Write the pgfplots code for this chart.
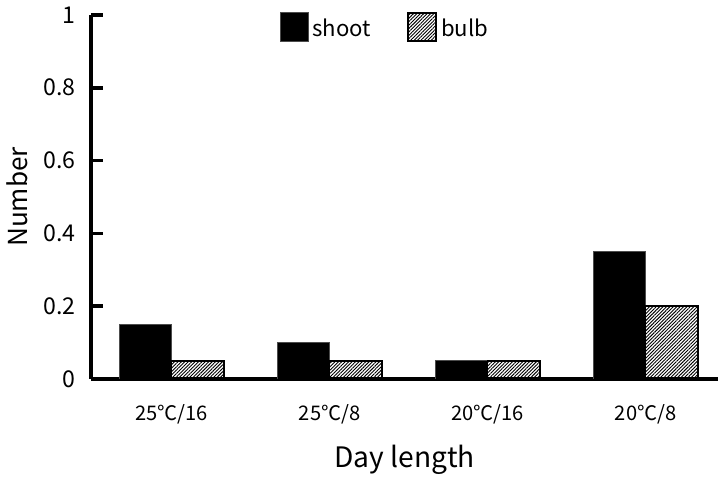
\documentclass[border=0pt]{standalone}
\usepackage{fontspec}
\setmainfont{Noto Sans CJK KR}
\usepackage{pgfplots}
\pgfplotsset{compat=1.18}
\usetikzlibrary{patterns.meta}

\begin{document}
\begin{tikzpicture}
\begin{axis}[
  width=312pt, height=181pt, scale only axis,
  ybar=0pt, bar width=26pt,
  xmin=-0.51, xmax=3.46,
  ymin=0, ymax=1,
  axis x line=bottom, axis y line=left,
  axis line style={-, line width=1.6pt},
  xtick={0,1,2,3},
  xticklabels={25℃/16, 25℃/8, 20℃/16, 20℃/8},
  ytick={0,0.2,0.4,0.6,0.8,1},
  yticklabels={0,0.2,0.4,0.6,0.8,1},
  tick style={black, line width=1.8pt},
  xtick style={draw=none},
  ytick align=inside, major tick length=6pt,
  yticklabel style={font=\fontsize{11.5}{13}\selectfont, xshift=-4pt},
  xticklabel style={font=\fontsize{10}{12}\selectfont, yshift=-6pt},
  xlabel={Day length}, ylabel={Number},
  xlabel style={font=\fontsize{14}{16}\selectfont, yshift=-4pt},
  ylabel style={font=\fontsize{13}{15}\selectfont, yshift=1pt},
  legend style={at={(0.47,1.02)}, anchor=north, draw=none, legend columns=2,
    font=\fontsize{11}{13}\selectfont, /tikz/every even column/.append style={column sep=16pt}},
  legend image code/.code={\draw[#1] (0pt,-6pt) rectangle (14pt,8pt);},
]
\addplot[fill=black, draw=black!70] coordinates {(0,0.15) (1,0.10) (2,0.05) (3,0.35)};
\addlegendentry{shoot}
\addplot[draw=black, line width=0.8pt, pattern={Lines[angle=45,distance=1.2pt,line width=0.45pt]}] coordinates {(0,0.05) (1,0.05) (2,0.05) (3,0.20)};
\addlegendentry{bulb}
\end{axis}
\end{tikzpicture}
\end{document}
